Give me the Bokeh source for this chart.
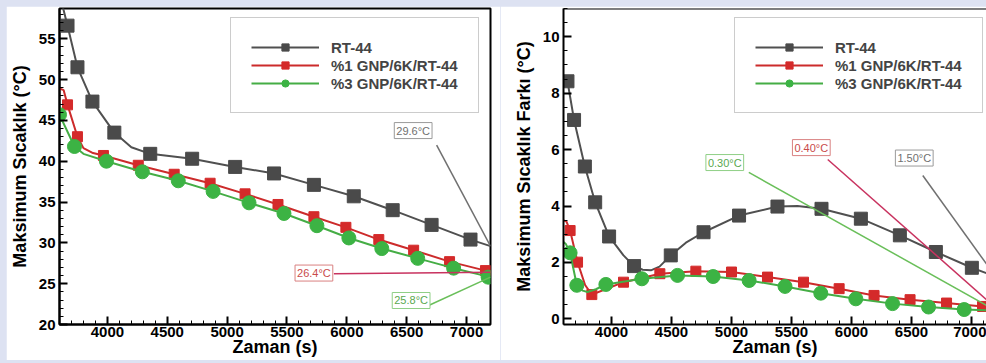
from bokeh.plotting import figure
from bokeh.models import Legend, LegendItem, Label, Span, Range1d, SingleIntervalTicker
from bokeh.layouts import row
from bokeh.embed import file_html
from bokeh.resources import INLINE

# ---------------- data ----------------
series_names = ["RT-44", "%1 GNP/6K/RT-44", "%3 GNP/6K/RT-44"]

# Left panel: maximum temperature (°C)
t_rt_line = [3600, 3667, 3750, 3875, 4058, 4200, 4358, 4708, 5067, 5392, 5725, 6058, 6383, 6708, 7033, 7200]
v_rt_line = [60.5, 56.6, 51.5, 47.3, 43.5, 41.7, 40.9, 40.3, 39.3, 38.5, 37.1, 35.7, 34.0, 32.2, 30.4, 29.6]
t_rt_mark = [3667, 3750, 3875, 4058, 4358, 4708, 5067, 5392, 5725, 6058, 6383, 6708, 7033]
v_rt_mark = [56.6, 51.5, 47.3, 43.5, 40.9, 40.3, 39.3, 38.5, 37.1, 35.7, 34.0, 32.2, 30.4]

t_g1_line = [3600, 3635, 3667, 3750, 3800, 3880, 3967, 4258, 4558, 4858, 5150, 5425, 5725, 5992, 6267, 6558, 6858, 7158, 7200]
v_g1_line = [48.9, 48.7, 46.9, 43.0, 41.6, 41.0, 40.7, 39.5, 38.4, 37.3, 36.0, 34.7, 33.2, 31.9, 30.4, 29.1, 27.7, 26.6, 26.4]
t_g1_mark = [3667, 3750, 3967, 4258, 4558, 4858, 5150, 5425, 5725, 5992, 6267, 6558, 6858, 7158]
v_g1_mark = [46.9, 43.0, 40.7, 39.5, 38.4, 37.3, 36.0, 34.7, 33.2, 31.9, 30.4, 29.1, 27.7, 26.6]

t_g3_line = [3600, 3725, 3800, 3992, 4292, 4592, 4883, 5183, 5475, 5750, 6017, 6292, 6592, 6892, 7200]
v_g3_line = [45.7, 41.8, 40.9, 40.0, 38.7, 37.6, 36.3, 34.9, 33.6, 32.1, 30.6, 29.3, 28.1, 26.9, 25.8]
t_g3_mark = [3600, 3725, 3992, 4292, 4592, 4883, 5183, 5475, 5750, 6017, 6292, 6592, 6892, 7180]
v_g3_mark = [45.7, 41.8, 40.0, 38.7, 37.6, 36.3, 34.9, 33.6, 32.1, 30.6, 29.3, 28.1, 26.9, 25.8]

left_end_vals = [29.6, 26.4, 25.8]

# Right panel: maximum temperature difference (°C)
d_rt_tl = [3600, 3633, 3688, 3778, 3864, 3980, 4100, 4188, 4260, 4328, 4400, 4494, 4620, 4767, 5063, 5383, 5550, 5750, 6078, 6403, 6703, 7003, 7200]
d_rt_vl = [8.6, 8.42, 7.05, 5.40, 4.13, 2.92, 2.25, 1.87, 1.74, 1.72, 1.85, 2.25, 2.70, 3.07, 3.66, 3.98, 4.00, 3.90, 3.55, 2.96, 2.37, 1.81, 1.50]
d_rt_tm = [3633, 3688, 3778, 3864, 3980, 4188, 4494, 4767, 5063, 5383, 5750, 6078, 6403, 6703, 7003]
d_rt_vm = [8.42, 7.05, 5.40, 4.13, 2.92, 1.87, 2.25, 3.07, 3.66, 3.98, 3.90, 3.55, 2.96, 2.37, 1.81]

d_g1_tl = [3600, 3625, 3655, 3717, 3780, 3836, 3950, 4100, 4403, 4703, 5000, 5300, 5600, 5897, 6188, 6488, 6792, 7092, 7200]
d_g1_vl = [3.49, 3.45, 3.13, 2.01, 1.20, 0.86, 1.05, 1.30, 1.60, 1.69, 1.66, 1.48, 1.30, 1.07, 0.83, 0.68, 0.56, 0.44, 0.40]
d_g1_tm = [3655, 3717, 3836, 4100, 4403, 4703, 5000, 5300, 5600, 5897, 6188, 6488, 6792, 7092]
d_g1_vm = [3.13, 2.01, 0.86, 1.30, 1.60, 1.69, 1.66, 1.48, 1.30, 1.07, 0.83, 0.68, 0.56, 0.44]

d_g3_tl = [3600, 3620, 3655, 3711, 3760, 3800, 3870, 3953, 4253, 4550, 4847, 5147, 5446, 5744, 6036, 6342, 6642, 6939, 7200]
d_g3_vl = [2.72, 2.65, 2.34, 1.19, 1.00, 0.95, 1.05, 1.22, 1.42, 1.54, 1.50, 1.36, 1.15, 0.91, 0.71, 0.54, 0.42, 0.33, 0.30]
d_g3_tm = [3655, 3711, 3953, 4253, 4550, 4847, 5147, 5446, 5744, 6036, 6342, 6642, 6939]
d_g3_vm = [2.34, 1.19, 1.22, 1.42, 1.54, 1.50, 1.36, 1.15, 0.91, 0.71, 0.54, 0.42, 0.33]

right_end_vals = [1.50, 0.40, 0.30]

# ---------------- styles ----------------
FONT = "Liberation Sans"
BG = "#dde2f2"
C_GRAY, C_RED, C_GREEN = "#4a4a4a", "#d42a2a", "#3cb344"
LINE_GRAY, LINE_RED, LINE_GREEN = "#505050", "#cc2b2b", "#45ad45"
LEAD = ["#707070", "#c8325f", "#6abf5a"]
TXT = ["#707070", "#c94a4a", "#5aa84f"]
BOX = ["#9a9a9a", "#d98080", "#8fcf86"]
T_END = 7200


def style(p, y_int, y_minor, ytitle):
    p.xgrid.visible = False
    p.ygrid.visible = False
    p.background_fill_color = "white"
    p.border_fill_color = "white"
    p.xaxis.ticker = SingleIntervalTicker(interval=500, num_minor_ticks=5)
    p.yaxis.ticker = SingleIntervalTicker(interval=y_int, num_minor_ticks=y_minor)
    for ax in (p.xaxis[0], p.yaxis[0]):
        ax.axis_line_width = 2
        ax.axis_line_color = "black"
        ax.major_tick_in = 8
        ax.major_tick_out = 0
        ax.minor_tick_in = 4
        ax.minor_tick_out = 0
        ax.major_tick_line_width = 2
        ax.minor_tick_line_width = 1
        ax.major_label_text_font = FONT
        ax.major_label_text_font_style = "bold"
        ax.major_label_text_font_size = "15px"
        ax.major_label_text_color = "black"
        ax.axis_label_text_font = FONT
        ax.axis_label_text_font_style = "bold"
        ax.axis_label_text_font_size = "18px"
        ax.axis_label_text_color = "black"
    p.xaxis.major_label_standoff = 2
    p.xaxis.axis_label_standoff = -3
    p.yaxis.major_label_standoff = 4
    p.yaxis.axis_label_standoff = 6
    p.xaxis.axis_label = "Zaman (s)"
    p.yaxis.axis_label = ytitle


def draw(p, lines, marks):
    items = []
    cfg = [(LINE_GRAY, C_GRAY, "square", 13), (LINE_RED, C_RED, "square", 10), (LINE_GREEN, C_GREEN, "circle", 14)]
    for (lt, lv), (mt, mv), (lc, mc, mk, ms), name in zip(lines, marks, cfg, series_names):
        r1 = p.line(lt, lv, line_color=lc, line_width=2)
        r2 = p.scatter(mt, mv, marker=mk, size=ms, fill_color=mc, line_color=mc)
        items.append(LegendItem(label=name, renderers=[r1, r2]))
    lg = Legend(items=items, location=(171, 211), glyph_width=68, glyph_height=18,
                label_height=18, label_standoff=12, padding=20, spacing=0, margin=0,
                label_text_font=FONT, label_text_font_style="bold", label_text_font_size="15px",
                border_line_color="#999999", border_line_width=1.5, background_fill_color="white")
    p.add_layout(lg)


def annotate(p, vals, texts, box_xy, lead_xy):
    for i, (v, t) in enumerate(zip(vals, texts)):
        p.segment(x0=[lead_xy[i][0]], y0=[lead_xy[i][1]], x1=[T_END], y1=[v], line_color=LEAD[i], line_width=1.5)
        p.add_layout(Label(x=box_xy[i][0], y=box_xy[i][1], text=t, text_font=FONT, text_font_size="11px",
                           text_color=TXT[i], text_align="center", text_baseline="middle",
                           border_line_color=BOX[i], border_line_width=1, background_fill_color="white",
                           padding=2))


# ---------------- left panel ----------------
p1 = figure(width=494, height=354, x_range=Range1d(3600, 7200), y_range=Range1d(20, 58.7),
            output_backend="svg", toolbar_location=None,
            min_border_left=52, min_border_right=10, min_border_top=2, min_border_bottom=36)
style(p1, 5, 5, "Maksimum Sıcaklık (°C)")
p1.outline_line_color = "black"
p1.outline_line_width = 2
draw(p1, [(t_rt_line, v_rt_line), (t_g1_line, v_g1_line), (t_g3_line, v_g3_line)],
     [(t_rt_mark, v_rt_mark), (t_g1_mark, v_g1_mark), (t_g3_mark, v_g3_mark)])
annotate(p1, left_end_vals, [f"{v:.1f}°C" for v in left_end_vals],
         [(6554, 43.75), (5725, 26.3), (6537, 22.94)],
         [(6750, 41.97), (5892, 26.2), (6692, 22.39)])
p1.margin = (6, 0, 3, 6)

# ---------------- right panel ----------------
p2 = figure(width=486, height=354, x_range=Range1d(3600, 7125), y_range=Range1d(-0.2, 11.0),
            output_backend="svg", toolbar_location=None,
            min_border_left=63, min_border_right=0, min_border_top=2, min_border_bottom=36)
style(p2, 2, 4, "Maksimum Sıcaklık Farkı (°C)")
p2.outline_line_color = None
p2.add_layout(Span(location=11.0, dimension="width", line_color="black", line_width=2))
draw(p2, [(d_rt_tl, d_rt_vl), (d_g1_tl, d_g1_vl), (d_g3_tl, d_g3_vl)],
     [(d_rt_tm, d_rt_vm), (d_g1_tm, d_g1_vm), (d_g3_tm, d_g3_vm)])
annotate(p2, right_end_vals, [f"{v:.2f}°C" for v in right_end_vals],
         [(6523, 5.70), (5665, 6.07), (4944, 5.54)],
         [(6594, 5.08), (5802, 5.65), (5144, 5.19)])
p2.margin = (6, 0, 3, 0)

layout = row(p1, p2, styles={"background-color": BG})
open("out.html", "w").write(file_html(layout, INLINE))
